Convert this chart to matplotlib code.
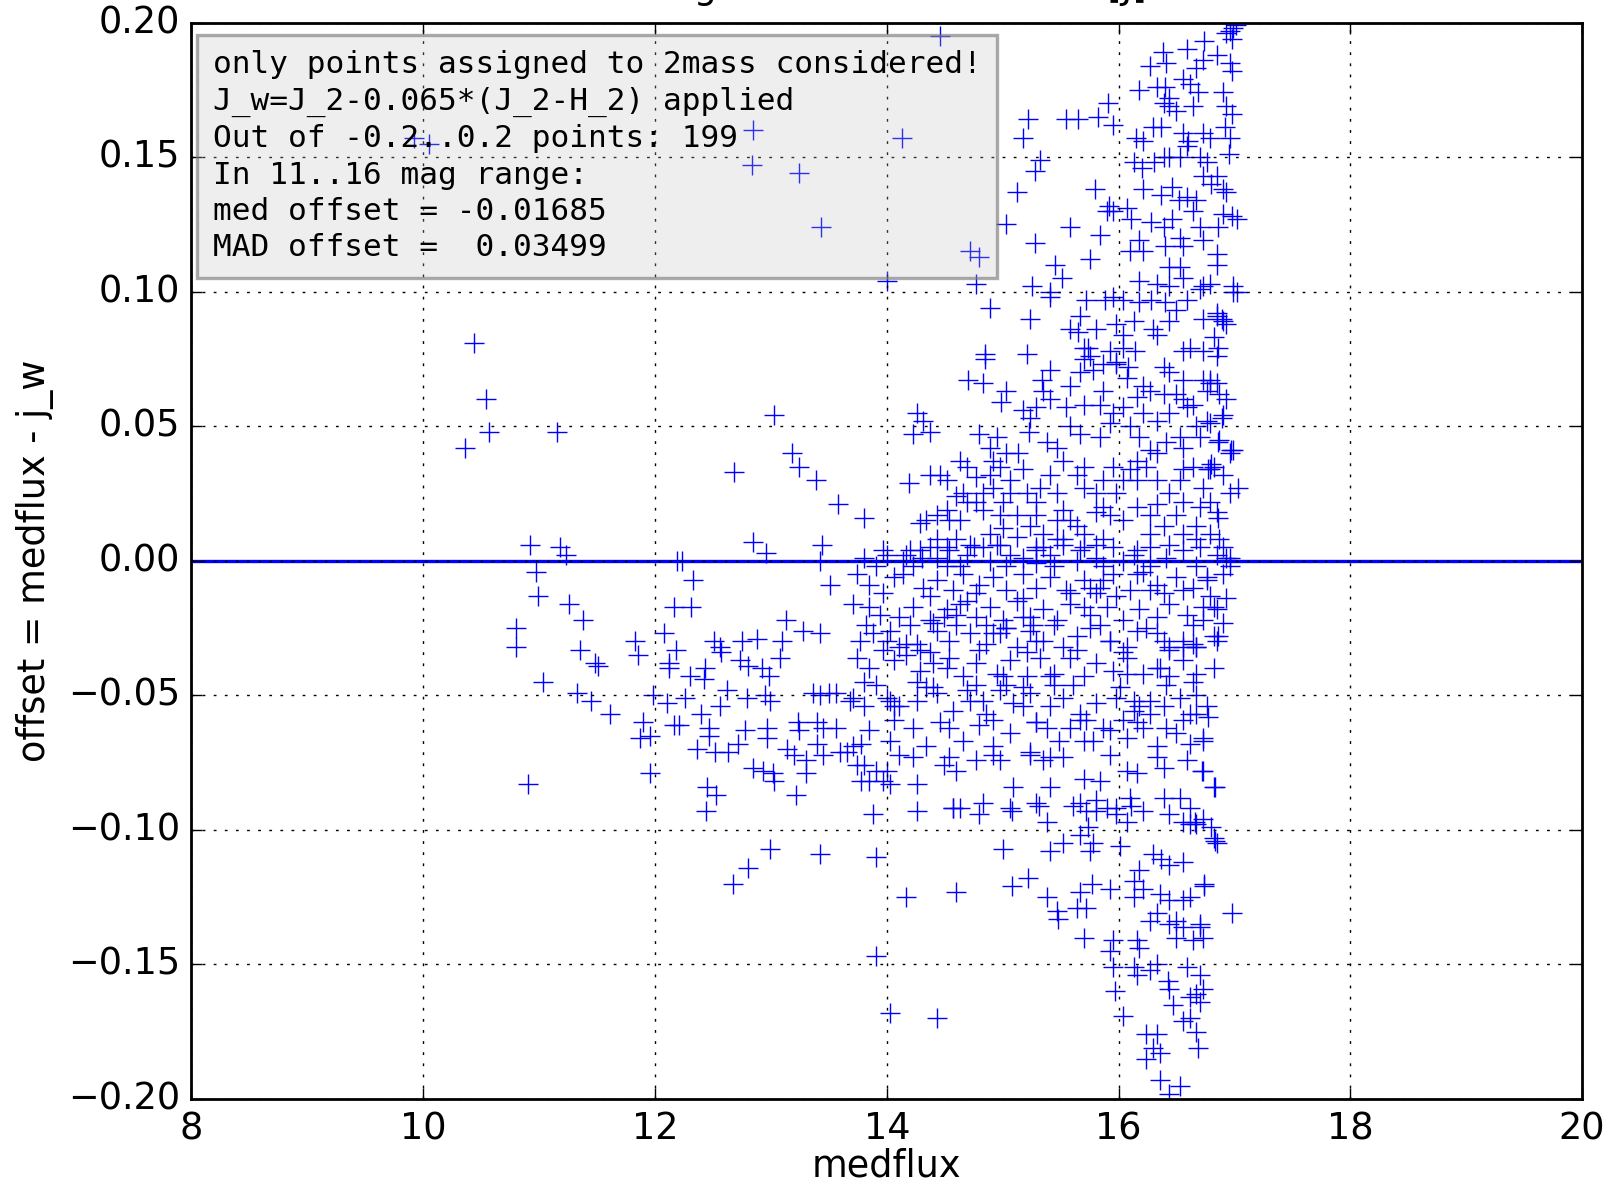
import numpy as np
import matplotlib
matplotlib.use("Agg")
import matplotlib.pyplot as plt

# (medflux, offset) pairs, grouped by region of the plot
bright_stars = [
    (10.44, 0.081), (10.54, 0.060), (10.57, 0.048), (10.36, 0.042), (11.15, 0.048),
    (10.92, 0.006), (10.97, -0.004), (10.99, -0.013), (10.80, -0.025), (10.80, -0.032),
    (11.03, -0.045), (10.90, -0.083), (11.18, 0.005), (11.23, 0.002), (11.26, -0.016),
    (11.38, -0.022), (11.35, -0.033), (11.48, -0.038), (11.51, -0.039), (11.33, -0.049),
    (11.45, -0.052), (11.61, -0.057), (11.83, -0.030), (11.85, -0.035), (11.87, -0.066),
    (11.96, -0.079), (11.90, -0.060), (9.92, 0.157), (10.05, 0.155),
]

mid_stars = [
    (12.08, -0.027), (12.18, -0.033), (12.19, 0.000), (12.23, 0.000), (12.33, -0.007),
    (12.16, -0.017), (12.31, -0.017), (12.12, -0.038), (12.12, -0.040), (12.30, -0.043),
    (12.43, -0.040), (12.42, -0.044), (12.51, -0.030), (12.56, -0.032), (12.57, -0.034),
    (12.68, 0.033), (12.85, 0.007), (12.96, 0.003), (13.03, 0.054), (13.18, 0.040),
    (13.24, 0.035), (13.39, 0.030), (13.58, 0.021), (13.80, 0.016), (13.44, 0.006),
    (13.42, 0.000), (13.51, -0.009), (12.75, -0.030), (12.88, -0.029), (13.10, -0.030),
    (13.08, -0.036), (13.13, -0.022), (13.28, -0.026), (13.42, -0.027), (12.73, -0.037),
    (12.80, -0.039), (12.92, -0.040), (12.98, -0.043), (11.98, -0.050), (12.10, -0.053),
    (12.16, -0.061), (12.21, -0.061), (11.96, -0.065), (12.26, -0.051), (12.40, -0.057),
    (12.47, -0.062), (12.47, -0.065), (12.36, -0.070), (12.52, -0.071), (12.63, -0.071),
    (12.72, -0.068), (12.56, -0.054), (12.62, -0.048), (12.79, -0.051), (12.95, -0.050),
    (12.99, -0.052), (12.78, -0.063), (12.97, -0.062), (12.97, -0.066), (12.85, -0.077),
    (12.93, -0.078), (13.02, -0.079), (13.03, -0.082), (12.45, -0.084), (12.53, -0.087),
    (13.22, -0.087), (13.14, -0.070), (13.20, -0.072), (13.30, -0.074), (13.30, -0.079),
    (13.40, -0.068), (13.45, -0.072), (13.60, -0.071), (13.66, -0.071), (13.78, -0.068),
    (13.74, -0.076), (13.78, -0.082), (13.91, -0.078), (13.97, -0.082), (13.23, -0.060),
    (13.24, -0.063), (13.40, -0.060), (13.45, -0.062), (13.56, -0.062), (13.36, -0.049),
    (13.42, -0.050), (13.50, -0.049), (13.56, -0.049), (12.67, -0.120), (12.80, -0.114),
    (12.99, -0.107), (13.42, -0.109), (12.44, -0.093), (12.85, 0.160), (12.84, 0.147),
    (13.24, 0.144), (13.43, 0.124),
]

faint_high = [
    (14.46, 0.195), (14.13, 0.157), (14.00, 0.104), (14.72, 0.115), (14.80, 0.113),
    (14.77, 0.103), (15.22, 0.164), (15.18, 0.157), (15.55, 0.164), (15.65, 0.164),
    (15.82, 0.165), (15.91, 0.170), (15.95, 0.162), (15.32, 0.149), (15.28, 0.145),
    (15.12, 0.137), (15.03, 0.125), (15.28, 0.118), (15.58, 0.124), (15.84, 0.121),
    (15.75, 0.112), (15.45, 0.110), (15.51, 0.105), (15.25, 0.102), (15.41, 0.100),
    (15.80, 0.138), (15.92, 0.132), (15.95, 0.130), (16.07, 0.131), (16.11, 0.127),
    (15.90, 0.130), (16.18, 0.175), (16.27, 0.184), (16.38, 0.189), (16.41, 0.185),
    (16.33, 0.176), (16.40, 0.176), (16.44, 0.172), (16.39, 0.170), (16.59, 0.190),
    (16.74, 0.193), (16.85, 0.188), (16.73, 0.186), (16.67, 0.183), (16.96, 0.197),
    (16.99, 0.198), (16.93, 0.196), (17.01, 0.199), (16.98, 0.194), (16.96, 0.185),
    (16.98, 0.182), (16.90, 0.174), (16.93, 0.169), (16.98, 0.166), (16.92, 0.161),
    (16.96, 0.157), (16.95, 0.151), (16.56, 0.179), (16.62, 0.177), (16.69, 0.174),
    (16.64, 0.169), (16.50, 0.167), (16.44, 0.169), (16.15, 0.157), (16.21, 0.156),
    (16.30, 0.161), (16.37, 0.161), (16.13, 0.148), (16.20, 0.146), (16.31, 0.148),
    (16.39, 0.150), (16.44, 0.150), (16.56, 0.159), (16.60, 0.156), (16.59, 0.154),
    (16.73, 0.159), (16.79, 0.157), (16.53, 0.150), (16.70, 0.150), (16.76, 0.148),
    (16.21, 0.138), (16.37, 0.136), (16.46, 0.139), (16.52, 0.134), (16.59, 0.135),
    (16.67, 0.134), (16.64, 0.130), (16.73, 0.143), (16.80, 0.140), (16.85, 0.143),
    (16.90, 0.138), (16.93, 0.137), (16.90, 0.129), (16.98, 0.128), (17.02, 0.127),
    (16.86, 0.124), (16.28, 0.126), (16.39, 0.124), (16.46, 0.127), (16.53, 0.120),
    (16.56, 0.117), (16.70, 0.124), (16.73, 0.119), (16.18, 0.119), (16.10, 0.115),
    (16.21, 0.115), (16.40, 0.117), (16.44, 0.109), (16.53, 0.109), (16.56, 0.105),
    (16.85, 0.114), (16.85, 0.110), (16.18, 0.104), (16.33, 0.103), (16.44, 0.102),
    (16.73, 0.102), (16.79, 0.103), (16.99, 0.102),
]

faint_pos = [
    (14.89, 0.094), (15.24, 0.090), (15.41, 0.098), (15.72, 0.097), (15.88, 0.097),
    (15.95, 0.098), (16.04, 0.097), (16.18, 0.096), (16.28, 0.097), (16.40, 0.096),
    (16.50, 0.093), (16.59, 0.097), (16.70, 0.101), (16.85, 0.092), (16.90, 0.089),
    (17.02, 0.100), (14.85, 0.077), (14.85, 0.075), (15.21, 0.077), (15.41, 0.071),
    (15.34, 0.067), (14.70, 0.067), (14.83, 0.066), (15.03, 0.063), (14.99, 0.059),
    (15.58, 0.086), (15.65, 0.085), (15.74, 0.079), (15.81, 0.086), (15.93, 0.078),
    (15.98, 0.088), (16.04, 0.084), (16.04, 0.079), (15.70, 0.075), (15.67, 0.070),
    (15.78, 0.071), (15.87, 0.073), (15.98, 0.074), (16.08, 0.072), (16.14, 0.078),
    (16.30, 0.086), (16.33, 0.084), (16.56, 0.078), (16.62, 0.079), (16.73, 0.078),
    (16.82, 0.083), (16.85, 0.076), (16.39, 0.072), (16.44, 0.070), (16.56, 0.067),
    (16.73, 0.067), (16.79, 0.066), (16.87, 0.062), (16.64, 0.058), (14.26, 0.055),
    (14.31, 0.052), (14.23, 0.047), (14.37, 0.048), (15.35, 0.063), (15.41, 0.060),
    (15.29, 0.057), (15.24, 0.053), (15.18, 0.056), (15.55, 0.057), (15.70, 0.058),
    (15.84, 0.058), (15.95, 0.055), (16.04, 0.057), (16.16, 0.061), (16.21, 0.055),
    (16.33, 0.052), (16.44, 0.055), (16.56, 0.060), (16.67, 0.050), (16.79, 0.051),
    (16.90, 0.054), (14.80, 0.047), (14.89, 0.042), (14.95, 0.046), (14.92, 0.037),
    (15.03, 0.040), (15.13, 0.040), (15.23, 0.048), (15.38, 0.044), (15.47, 0.042),
    (15.58, 0.050), (15.67, 0.047), (15.84, 0.046), (15.93, 0.051), (16.10, 0.050),
    (16.18, 0.046), (16.27, 0.041), (16.41, 0.044), (16.56, 0.042), (16.70, 0.046),
    (16.87, 0.045), (16.99, 0.041), (14.19, 0.029), (14.46, 0.032), (14.52, 0.030),
    (14.63, 0.037), (14.69, 0.035), (14.77, 0.031), (14.37, 0.032), (14.29, 0.014),
    (14.34, 0.015), (14.52, 0.019), (14.60, 0.024), (14.66, 0.025), (14.54, 0.015),
    (14.52, 0.005), (14.60, 0.008), (14.83, 0.025), (14.83, 0.019), (14.92, 0.027),
    (15.00, 0.022), (15.06, 0.030), (15.12, 0.017), (15.21, 0.025), (15.32, 0.027),
    (15.29, 0.022), (15.41, 0.032), (15.47, 0.025), (14.89, 0.010), (14.98, 0.006),
    (15.12, 0.009), (15.24, 0.013), (15.35, 0.010), (15.47, 0.008), (15.58, 0.015),
    (15.70, 0.010), (15.81, 0.006), (15.52, 0.037), (15.64, 0.032), (15.70, 0.027),
    (15.81, 0.025), (15.87, 0.030), (15.95, 0.035), (16.04, 0.030), (16.16, 0.037),
    (16.24, 0.035), (16.33, 0.030), (16.44, 0.025), (16.53, 0.030), (16.64, 0.035),
    (16.73, 0.027), (16.79, 0.034), (16.96, 0.025), (17.03, 0.027), (16.70, 0.020),
    (16.85, 0.018), (15.93, 0.017), (16.04, 0.015), (16.16, 0.020), (16.27, 0.017),
    (16.39, 0.013), (16.50, 0.017), (16.56, 0.010), (16.67, 0.008), (16.79, 0.010),
    (16.90, 0.005), (13.97, 0.004), (14.20, 0.004), (14.30, 0.001), (15.67, 0.091),
    (16.13, 0.089), (16.44, 0.089), (16.73, 0.090), (16.93, 0.088), (15.58, 0.065),
    (15.87, 0.063), (16.27, 0.063), (16.50, 0.062), (16.76, 0.063), (16.93, 0.060),
    (14.98, 0.035), (15.18, 0.034), (15.70, 0.035), (16.10, 0.034), (16.56, 0.034),
    (16.82, 0.035), (14.69, 0.022), (14.98, 0.017), (15.52, 0.019), (15.87, 0.020),
    (16.33, 0.021), (16.56, 0.022), (14.43, 0.008), (14.75, 0.005), (15.29, 0.004),
    (15.70, 0.005), (16.16, 0.004), (16.44, 0.006), (16.99, 0.100), (16.85, 0.091),
    (16.89, 0.090), (16.86, 0.079), (16.79, 0.067), (16.85, 0.066), (16.89, 0.053),
    (16.86, 0.044), (16.97, 0.041), (16.77, 0.034), (16.80, 0.036), (16.86, 0.016),
    (16.87, 0.008), (16.93, 0.001),
    (15.70, 0.079), (15.75, 0.076), (15.98, 0.073), (16.07, 0.068), (16.21, 0.065),
    (16.39, 0.062), (16.59, 0.057), (16.76, 0.052), (16.53, 0.046), (16.33, 0.040),
    (16.16, 0.030), (15.98, 0.025), (15.81, 0.018), (15.64, 0.013), (15.47, 0.015),
    (15.29, 0.017), (15.06, 0.025), (14.89, 0.032), (14.77, 0.022), (14.63, 0.015),
    (14.43, 0.017), (14.37, 0.005), (14.72, 0.006), (15.00, 0.012), (15.35, 0.005),
    (15.52, 0.008), (15.87, 0.008), (16.27, 0.010), (16.67, 0.013), (16.79, 0.022),
    (16.90, 0.032), (16.96, 0.040),
]

faint_neg = [
    (13.80, 0.001), (14.00, 0.002), (14.17, 0.002), (14.29, 0.004), (14.43, 0.001),
    (14.54, 0.004), (14.69, 0.002), (14.83, 0.005), (14.95, 0.006), (15.06, 0.002),
    (15.18, 0.001), (15.29, 0.005), (15.41, 0.002), (15.52, 0.006), (15.67, 0.004),
    (15.81, 0.001), (15.95, 0.005), (16.13, 0.002), (16.27, 0.005), (16.41, 0.001),
    (16.56, 0.004), (16.70, 0.005), (16.85, 0.002), (16.96, 0.001),
    (13.74, -0.005), (13.85, -0.009), (14.06, -0.006), (14.14, -0.005), (14.31, -0.010),
    (14.43, -0.007), (14.57, -0.011), (14.66, -0.005), (14.80, -0.009), (14.92, -0.006),
    (15.03, -0.011), (15.18, -0.005), (15.29, -0.010), (15.41, -0.006), (15.55, -0.011),
    (15.70, -0.007), (15.84, -0.010), (15.95, -0.005), (16.10, -0.011), (16.21, -0.004),
    (16.33, -0.009), (16.50, -0.006), (16.64, -0.010), (16.76, -0.006), (16.90, -0.005),
    (13.71, -0.016), (13.94, -0.020), (14.11, -0.021), (14.23, -0.017), (14.37, -0.022),
    (14.52, -0.018), (14.63, -0.016), (14.77, -0.021), (14.89, -0.017), (15.00, -0.022),
    (15.12, -0.015), (15.24, -0.021), (15.35, -0.018), (15.47, -0.022), (15.58, -0.016),
    (15.75, -0.020), (15.90, -0.017), (16.04, -0.022), (16.18, -0.018), (16.33, -0.021),
    (16.44, -0.016), (16.59, -0.020), (16.73, -0.022), (16.85, -0.018), (16.93, -0.014),
    (13.77, -0.030), (13.88, -0.027), (14.03, -0.026), (14.17, -0.031), (14.29, -0.033),
    (14.43, -0.026), (14.54, -0.030), (14.72, -0.027), (14.86, -0.031), (14.98, -0.027),
    (15.12, -0.032), (15.24, -0.026), (15.35, -0.030), (15.52, -0.032), (15.64, -0.028),
    (15.75, -0.025), (15.93, -0.030), (16.07, -0.032), (16.16, -0.026), (16.33, -0.027),
    (16.44, -0.032), (16.56, -0.030), (16.67, -0.032), (16.82, -0.028),
    (13.74, -0.036), (13.85, -0.040), (14.06, -0.037), (14.17, -0.035), (14.29, -0.041),
    (14.40, -0.038), (14.54, -0.036), (14.66, -0.043), (14.77, -0.038), (14.95, -0.042),
    (15.06, -0.037), (15.21, -0.043), (15.32, -0.036), (15.44, -0.042), (15.58, -0.036),
    (15.70, -0.043), (15.81, -0.038), (15.95, -0.041), (16.07, -0.036), (16.21, -0.042),
    (16.33, -0.040), (16.44, -0.043), (16.56, -0.037), (16.67, -0.042),
    (13.68, -0.052), (13.80, -0.054), (14.00, -0.051), (14.11, -0.054), (14.26, -0.052),
    (14.43, -0.049), (14.57, -0.056), (14.72, -0.052), (14.86, -0.057), (14.98, -0.048),
    (15.09, -0.053), (15.24, -0.049), (15.41, -0.054), (15.52, -0.051), (15.67, -0.057),
    (15.81, -0.053), (15.98, -0.051), (16.13, -0.056), (16.27, -0.052), (16.39, -0.054),
    (16.53, -0.051), (16.67, -0.057), (16.76, -0.054),
    (13.71, -0.069), (13.85, -0.063), (14.03, -0.067), (14.23, -0.062), (14.34, -0.069),
    (14.54, -0.062), (14.66, -0.067), (14.80, -0.061), (14.92, -0.069), (15.06, -0.064),
    (15.24, -0.071), (15.38, -0.062), (15.49, -0.067), (15.67, -0.059), (15.78, -0.067),
    (15.93, -0.063), (16.07, -0.066), (16.21, -0.062), (16.33, -0.069), (16.50, -0.064),
    (16.62, -0.068), (16.73, -0.066),
    (13.80, -0.076), (14.00, -0.078), (14.23, -0.073), (14.49, -0.076), (14.60, -0.078),
    (14.77, -0.074), (14.98, -0.074), (15.09, -0.084), (15.24, -0.072), (15.35, -0.074),
    (15.52, -0.073), (15.70, -0.081), (15.84, -0.082), (16.07, -0.078), (16.16, -0.079),
    (16.39, -0.077), (16.59, -0.074), (16.73, -0.078), (16.82, -0.084),
    (13.85, -0.082), (14.03, -0.083), (14.26, -0.083), (14.57, -0.092), (14.63, -0.092),
    (14.83, -0.090), (15.06, -0.092), (15.29, -0.090), (15.41, -0.084), (15.67, -0.090),
    (15.81, -0.089), (15.98, -0.092), (16.10, -0.088), (16.39, -0.088), (16.53, -0.088),
    (16.62, -0.092), (13.88, -0.094), (14.26, -0.093),
    (13.91, -0.002), (14.23, -0.002), (14.63, -0.002), (15.03, -0.002), (15.44, -0.002),
    (15.87, -0.002), (16.27, -0.002), (16.67, -0.002),
    (13.97, -0.012), (14.37, -0.013), (14.77, -0.012), (15.18, -0.014), (15.58, -0.012),
    (15.98, -0.013), (16.39, -0.012), (16.79, -0.013),
    (13.82, -0.024), (14.20, -0.024), (14.60, -0.024), (15.03, -0.025), (15.44, -0.024),
    (15.84, -0.024), (16.24, -0.025), (16.64, -0.024),
    (13.97, -0.033), (14.37, -0.034), (14.80, -0.033), (15.21, -0.034), (15.64, -0.033),
    (16.04, -0.034), (16.44, -0.033),
    (13.91, -0.046), (14.34, -0.047), (14.77, -0.046), (15.18, -0.047), (15.61, -0.046),
    (16.01, -0.047), (16.41, -0.046),
    (14.06, -0.059), (14.46, -0.060), (14.92, -0.059), (15.29, -0.060), (15.72, -0.059),
    (16.16, -0.060), (16.56, -0.059),
    (14.11, -0.072), (14.54, -0.073), (14.92, -0.072), (15.41, -0.073), (15.93, -0.072),
    (16.33, -0.073),
    (16.96, -0.002), (16.76, -0.007), (16.82, -0.017), (16.86, -0.028), (16.67, -0.032),
    (16.64, -0.045), (16.77, -0.058), (16.73, -0.067), (16.72, -0.078), (16.83, -0.084),
    (14.03, -0.052), (14.06, -0.054), (14.00, -0.030), (14.11, -0.032), (14.26, -0.031),
    (14.40, -0.023), (14.49, -0.021), (14.60, -0.020), (14.69, -0.015), (14.86, -0.024),
    (14.92, -0.027), (15.03, -0.025), (15.18, -0.021), (15.26, -0.024), (15.29, -0.030),
    (15.41, -0.043), (15.44, -0.046), (15.03, -0.046), (15.00, -0.043), (15.70, -0.017),
    (15.81, -0.012), (15.87, -0.007), (15.75, -0.010), (15.93, -0.030), (16.07, -0.042),
    (16.13, -0.052), (16.18, -0.054), (16.27, -0.057), (16.36, -0.040), (16.39, -0.030),
    (16.56, -0.032), (16.64, -0.031), (16.73, -0.017), (16.56, -0.011), (16.27, -0.011),
    (16.16, -0.005), (16.04, 0.000), (15.64, 0.000), (15.29, -0.001), (14.89, 0.000),
    (14.52, -0.002), (14.14, 0.000), (13.85, -0.017), (13.80, -0.045), (13.71, -0.051),
    (14.26, -0.045), (14.40, -0.047), (14.52, -0.040), (14.69, -0.048), (14.83, -0.052),
    (15.18, -0.054), (15.29, -0.060), (15.58, -0.062), (15.70, -0.067), (15.87, -0.062),
    (16.04, -0.059), (16.41, -0.062), (16.62, -0.057), (16.67, -0.050), (16.82, -0.040),
    (16.85, -0.030), (16.90, -0.023),
]

faint_low = [
    (14.57, -0.092), (14.80, -0.094), (15.08, -0.093), (15.31, -0.091), (15.38, -0.097),
    (15.61, -0.091), (15.72, -0.093), (15.81, -0.093), (15.90, -0.092), (15.98, -0.094),
    (16.07, -0.097), (16.11, -0.091), (16.21, -0.093), (16.44, -0.094), (16.56, -0.097),
    (16.67, -0.098), (16.62, -0.098), (13.91, -0.110), (15.00, -0.107), (15.41, -0.108),
    (15.52, -0.105), (15.67, -0.102), (15.74, -0.099), (15.75, -0.108), (15.78, -0.105),
    (16.01, -0.106), (16.30, -0.109), (16.37, -0.111), (16.44, -0.113), (16.56, -0.112),
    (16.82, -0.103), (16.85, -0.105), (14.17, -0.125), (14.60, -0.123), (15.08, -0.121),
    (15.22, -0.118), (15.38, -0.125), (15.47, -0.130), (15.48, -0.133), (15.67, -0.123),
    (15.64, -0.129), (15.72, -0.129), (15.77, -0.120), (15.93, -0.122), (16.13, -0.119),
    (16.13, -0.125), (16.21, -0.122), (16.18, -0.115), (16.36, -0.124), (16.44, -0.126),
    (16.56, -0.126), (16.62, -0.125), (16.74, -0.121), (16.27, -0.134), (16.33, -0.131),
    (16.44, -0.135), (16.50, -0.134), (16.56, -0.136), (16.70, -0.136), (16.98, -0.131),
    (15.70, -0.140), (15.95, -0.141), (15.93, -0.145), (16.16, -0.141), (16.18, -0.144),
    (16.50, -0.140), (16.64, -0.141), (13.91, -0.147), (15.95, -0.151), (16.13, -0.151),
    (16.16, -0.154), (16.27, -0.152), (16.33, -0.150), (16.43, -0.156), (16.44, -0.159),
    (16.59, -0.151), (16.70, -0.154), (16.73, -0.159), (15.97, -0.160), (16.47, -0.165),
    (16.62, -0.162), (16.67, -0.161), (16.70, -0.164), (14.03, -0.168), (14.43, -0.170),
    (16.04, -0.169), (16.56, -0.171), (16.62, -0.170), (16.67, -0.175), (16.24, -0.176),
    (16.33, -0.176), (16.69, -0.181), (16.24, -0.185), (16.36, -0.183), (16.30, -0.181),
    (16.36, -0.193), (16.53, -0.195), (16.44, -0.198), (16.80, -0.099), (16.83, -0.104),
    (16.73, -0.096), (16.66, -0.097), (16.74, -0.120), (16.70, -0.135), (16.73, -0.140),
]

box_lines = [
    "only points assigned to 2mass considered!",
    "J_w=J_2-0.065*(J_2-H_2) applied",
    "Out of -0.2..0.2 points: 199",
    "In 11..16 mag range:",
    "med offset = -0.01685",
    "MAD offset =  0.03499",
]

points = np.array(bright_stars + mid_stars + faint_high + faint_pos + faint_neg + faint_low)
medflux = points[:, 0]
offset = points[:, 1]

plt.style.use("classic")
fs = 13.2
fig = plt.figure(figsize=(8.03, 5.925), dpi=200)
fig.patch.set_facecolor("white")
ax = fig.add_axes([0.11924, 0.07257, 0.86582, 0.90844])

ax.plot(medflux, offset, "b+", ms=7, mew=0.5)
ax.axhline(0, color="b", lw=1.2)

ax.set_xlim(8, 20)
ax.set_ylim(-0.2, 0.2)
ax.grid(True)
ax.tick_params(labelsize=fs)
ax.set_xlabel("medflux", fontsize=fs, labelpad=0)
ax.set_ylabel("offset = medflux - j_w", fontsize=fs)

ax.text(0.0155, 0.974, "\n".join(box_lines), transform=ax.transAxes,
        ha="left", va="top", family="DejaVu Sans Mono", fontsize=11.2,
        color="k", linespacing=1.32,
        bbox=dict(boxstyle="square,pad=0.5", fc=(0.75, 0.75, 0.75, 0.25),
                  ec=(0.45, 0.45, 0.45, 0.6), lw=1.2))

# title sits mostly above the visible area, as in the reference
fig.text(887 / 1606, 1 + 2 / 1185, "Weighted offset to 2mass [J]",
         ha="center", va="baseline", fontsize=fs)

fig.savefig("out.png", dpi=200, facecolor="white")
